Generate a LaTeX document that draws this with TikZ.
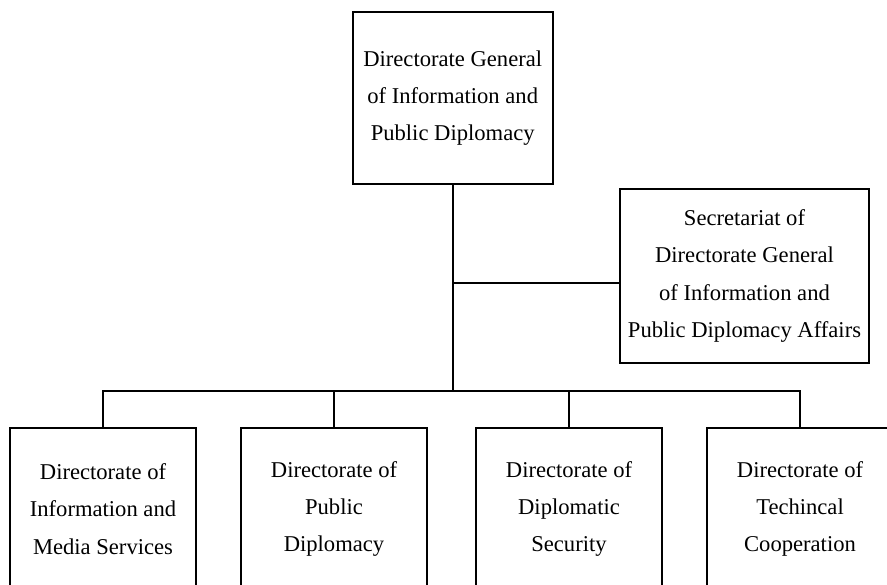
\documentclass[tikz,border=0pt]{standalone}
\usepackage{fontspec}
\setmainfont{Liberation Serif}
\usepackage{tikz}

\begin{document}
\begin{tikzpicture}[x=0.5pt,y=-0.5pt,
		unit/.style={draw,line width=0.9pt,align=center,inner sep=0pt,
			font=\fontsize{11.3}{18.7}\selectfont},
		lowunit/.style={unit,minimum width=93pt,minimum height=81pt},
		link/.style={line width=0.9pt}]
	\path[use as bounding box,clip] (0,0) rectangle (887,584);
	% head and secretariat
	\node[unit,minimum width=100pt,minimum height=86.3pt] (dg) at (452.7,98)
		{Directorate General\\of Information and\\Public Diplomacy};
	\node[unit,minimum width=124.5pt,minimum height=87pt] (sec) at (744.5,276)
		{Secretariat of\\Directorate General\\of Information and\\Public Diplomacy Affairs};
	% directorates (cut off at the bottom)
	\node[lowunit] (dims) at (103,509) {Directorate of\\Information and\\Media Services};
	\node[lowunit] (dpd) at (334,509) {Directorate of\\Public\\Diplomacy};
	\node[lowunit] (dds) at (569,509) {Directorate of\\Diplomatic\\Security};
	\node[lowunit] (dtc) at (800,509) {Directorate of\\Techincal\\Cooperation};
	% lines
	\coordinate (tee) at (452.7,283);
	\coordinate (split) at (452.7,391);
	\draw[link] (dg.south) -- (split);
	\draw[link] (tee) -- (tee -| sec.west);
	\draw[link] (dims.north) |- (dtc.north |- split) -- (dtc.north);
	\foreach \d in {dpd,dds}
	\draw[link] (split -| \d.north) -- (\d.north);
\end{tikzpicture}
\end{document}
